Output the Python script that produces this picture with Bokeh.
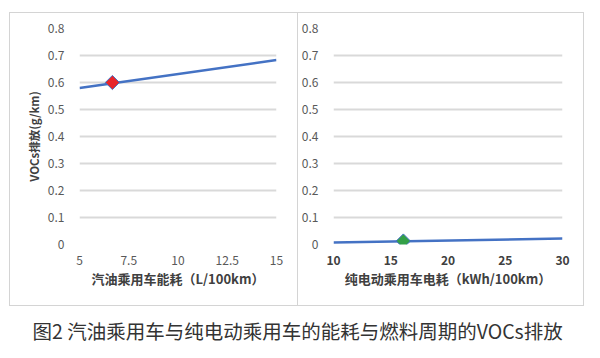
from bokeh.plotting import figure
from bokeh.layouts import column, row
from bokeh.models import Label, FixedTicker
from bokeh.embed import file_html
from bokeh.resources import INLINE
import math

# Data
gas_x = [5, 15]
gas_y = [0.58, 0.683]
gas_pt_x = [6.67]
gas_pt_y = [0.60]

ev_x = [10, 30]
ev_y = [0.007, 0.022]
ev_pt_x = [16.1]
ev_pt_y = [0.013]

y_ticks = [0, 0.1, 0.2, 0.3, 0.4, 0.5, 0.6, 0.7, 0.8]
gas_ticks = [5, 7.5, 10, 12.5, 15]
ev_ticks = [10, 15, 20, 25, 30]

title_gas = "汽油乘用车能耗（L/100km）"
title_ev = "纯电动乘用车电耗（kWh/100km）"
title_y = "VOCs排放(g/km)"
caption = "图2 汽油乘用车与纯电动乘用车的能耗与燃料周期的VOCs排放"

FONT = "Noto Sans CJK SC"
LINE = "#4472c4"
GRID = "#d9d9d9"
BORDER = "#d4d4d4"
TXT = "#595959"
H = 294


def make_panel(width, xr, xticks, xtitle, left_border, right_border, ytitle, xbold, styles, margin):
    p = figure(width=width, height=H, output_backend="svg", toolbar_location=None,
               x_range=xr, y_range=(0, 0.8),
               min_border_left=left_border, min_border_right=right_border,
               min_border_top=15, min_border_bottom=63,
               styles=styles, margin=margin)
    p.outline_line_color = None
    p.xgrid.grid_line_color = None
    p.ygrid.grid_line_color = GRID
    p.ygrid.grid_line_width = 2
    p.yaxis.ticker = FixedTicker(ticks=y_ticks)
    p.xaxis.ticker = FixedTicker(ticks=xticks)
    for ax in (p.xaxis, p.yaxis):
        ax.axis_line_color = None
        ax.major_tick_line_color = None
        ax.minor_tick_line_color = None
        ax.major_label_text_font = FONT
        ax.major_label_text_font_size = "12px"
        ax.major_label_text_color = TXT
        ax.axis_label_text_font = FONT
        ax.axis_label_text_font_style = "bold"
        ax.axis_label_text_color = "#404040"
    p.yaxis.major_label_standoff = 9
    p.xaxis.major_label_standoff = 5
    p.xaxis.axis_label = xtitle
    p.xaxis.axis_label_text_font_size = "13px"
    p.xaxis.axis_label_standoff = 1
    if xbold:
        p.xaxis.major_label_text_font_style = "bold"
        p.xaxis.major_label_text_color = "#404040"
    if ytitle:
        p.yaxis.axis_label = ytitle
        p.yaxis.axis_label_text_font_size = "11.5px"
        p.yaxis.axis_label_standoff = 3
    return p


p1 = make_panel(288, (5, 15), gas_ticks, title_gas, 69, 22, title_y, False,
                {"border": "1px solid " + BORDER, "border-right": "none"}, (12, 0, 0, 9))
p1.line(gas_x, gas_y, line_color=LINE, line_width=2.5)
p1.scatter(gas_pt_x, gas_pt_y, marker="square", size=10, angle=math.pi / 4,
           fill_color="#e8262a", line_color=LINE, line_width=1)

p2 = make_panel(287, (10, 30), ev_ticks, title_ev, 35, 23, None, True,
                {"border": "1px solid " + BORDER}, (12, 0, 0, 0))
p2.line(ev_x, ev_y, line_color=LINE, line_width=2.5)
p2.scatter(ev_pt_x, ev_pt_y, marker="square", size=10, angle=math.pi / 4,
           fill_color="#33a047", line_color=LINE, line_width=1)

cap = figure(width=588, height=40, output_backend="svg", toolbar_location=None,
             x_range=(0, 1), y_range=(0, 1), min_border=0)
cap.axis.visible = False
cap.grid.visible = False
cap.outline_line_color = None
cap.add_layout(Label(x=32, y=16, x_units="screen", y_units="screen", text=caption,
                     text_font=FONT, text_font_size="19.5px", text_color="#333333",
                     text_baseline="middle", text_align="left"))

layout = column(row(p1, p2, spacing=0), cap, spacing=0)
open("out.html", "w").write(file_html(layout, INLINE))
